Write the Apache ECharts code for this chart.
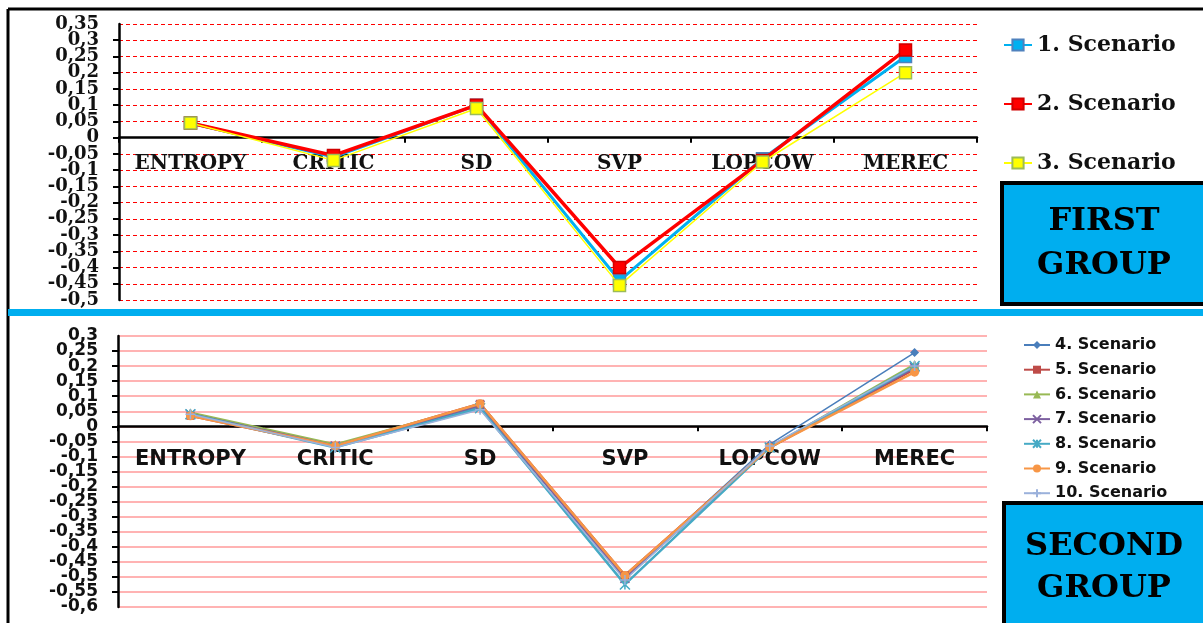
<!DOCTYPE html>
<html>
<head>
<meta charset="utf-8">
<script src="https://cdn.jsdelivr.net/npm/echarts@6/dist/echarts.min.js"></script>
<style>html,body{margin:0;padding:0;background:#fff;}#c{width:1203px;height:623px;}</style>
</head>
<body>
<div id="c"></div>
<script>
// ---- data ----
const categories = ['ENTROPY', 'CRITIC', 'SD', 'SVP', 'LOPCOW', 'MEREC'];

const firstNames = ['1. Scenario', '2. Scenario', '3. Scenario'];
const s1 = [0.045, -0.06, 0.10, -0.44, -0.065, 0.25];
const s2 = [0.045, -0.055, 0.10, -0.40, -0.07, 0.27];
const s3 = [0.045, -0.07, 0.09, -0.455, -0.075, 0.20];

const secondNames = ['4. Scenario', '5. Scenario', '6. Scenario', '7. Scenario', '8. Scenario', '9. Scenario', '10. Scenario'];
const s4 = [0.04, -0.065, 0.065, -0.50, -0.06, 0.245];
const s5 = [0.035, -0.065, 0.075, -0.495, -0.07, 0.19];
const s6 = [0.045, -0.06, 0.07, -0.50, -0.07, 0.205];
const s7 = [0.04, -0.065, 0.07, -0.505, -0.07, 0.195];
const s8 = [0.04, -0.07, 0.06, -0.525, -0.07, 0.20];
const s9 = [0.035, -0.065, 0.075, -0.495, -0.07, 0.18];
const s10 = [0.04, -0.07, 0.055, -0.51, -0.065, 0.20];

const topAxis = { min: -0.5, max: 0.35, interval: 0.05 };
const bottomAxis = { min: -0.6, max: 0.3, interval: 0.05 };
const groupLabels = ['FIRST\nGROUP', 'SECOND\nGROUP'];

// ---- chart ----
const fmt = v => String(Math.round(v * 100) / 100).replace('.', ',');
const SERIF = 'DejaVu Serif';
const SANS = 'DejaVu Sans';
const TXT = '#111';

const topGrid = { left: 119, top: 24, width: 858, height: 276 };
const botGrid = { left: 118, top: 336, width: 869, height: 271 };
// distance of the zero line above the grid bottom (axis moved onto zero)
const zeroOffset = (g, ax) => -g.height * (0 - ax.min) / (ax.max - ax.min);

const chart = echarts.init(document.getElementById('c'), null, { renderer: 'canvas' });

function topSeries(name, data, color, border, width, z) {
  return {
    name, type: 'line', data, xAxisIndex: 0, yAxisIndex: 0,
    symbol: 'rect', symbolSize: 12, z,
    lineStyle: { color, width },
    itemStyle: { color, borderColor: border, borderWidth: 1.5 },
    emphasis: { disabled: true }
  };
}
function botSeries(name, data, color, symbol, size, width, stroke, z) {
  return {
    name, type: 'line', data, xAxisIndex: 1, yAxisIndex: 1,
    symbol, symbolSize: size, z,
    lineStyle: { color, width },
    itemStyle: stroke ? { color: color, borderColor: color, borderWidth: 1.5 } : { color, borderColor: color, borderWidth: 0 },
    emphasis: { disabled: true }
  };
}
// main value axis: interior labels, line, ticks, grid lines
function mainY(gridIndex, ax, family, size, split) {
  return {
    type: 'value', gridIndex, position: 'left', min: ax.min, max: ax.max, interval: ax.interval,
    axisLine: { show: true, lineStyle: { color: '#000', width: 2.5 } },
    axisTick: { show: true, length: 6, lineStyle: { color: '#000', width: 2 } },
    axisLabel: { margin: 20, formatter: fmt, fontFamily: family, fontWeight: 'bold', fontSize: size, color: TXT,
      showMinLabel: false, showMaxLabel: false },
    splitLine: { show: true, lineStyle: split }
  };
}
// companion axis on the same side: only the end labels (min / max)
function endY(gridIndex, ax, family, size) {
  return {
    type: 'value', gridIndex, position: 'left', min: ax.min, max: ax.max, interval: ax.interval,
    axisLine: { show: false }, axisTick: { show: false }, splitLine: { show: false },
    axisLabel: { margin: 20, fontFamily: family, fontWeight: 'bold', fontSize: size, color: TXT,
      showMinLabel: true, showMaxLabel: true,
      formatter: v => (Math.abs(v - ax.min) < 1e-9 || Math.abs(v - ax.max) < 1e-9) ? fmt(v) : '' }
  };
}

const option = {
  animation: false,
  backgroundColor: '#fff',
  grid: [
    Object.assign({ containLabel: false }, topGrid),
    Object.assign({ containLabel: false }, botGrid)
  ],
  xAxis: [
    {
      type: 'category', gridIndex: 0, data: categories, boundaryGap: true, position: 'bottom',
      offset: zeroOffset(topGrid, topAxis),
      axisLine: { onZero: false, lineStyle: { color: '#000', width: 2.5 } },
      axisTick: { show: true, length: 5, lineStyle: { color: '#000', width: 2 } },
      axisLabel: { margin: 16, fontFamily: SERIF, fontWeight: 'bold', fontSize: 20, color: TXT, interval: 0 },
      splitLine: { show: false }
    },
    {
      type: 'category', gridIndex: 1, data: categories, boundaryGap: true, position: 'bottom',
      offset: zeroOffset(botGrid, bottomAxis),
      axisLine: { onZero: false, lineStyle: { color: '#000', width: 2.5 } },
      axisTick: { show: true, length: 5, lineStyle: { color: '#000', width: 2 } },
      axisLabel: { margin: 23, fontFamily: SANS, fontWeight: 'bold', fontSize: 21, color: TXT, interval: 0 },
      splitLine: { show: false }
    }
  ],
  yAxis: [
    mainY(0, topAxis, SERIF, 18, { color: '#ff0000', width: 1, type: [4, 3] }),
    mainY(1, bottomAxis, SANS, 17, { color: '#ff9a9a', width: 1.5 }),
    endY(0, topAxis, SERIF, 18),
    endY(1, bottomAxis, SANS, 17)
  ],
  legend: [
    {
      data: firstNames, orient: 'vertical', left: 998, top: 29,
      itemWidth: 28, itemHeight: 14, itemGap: 37,
      textStyle: { fontFamily: SERIF, fontWeight: 'bold', fontSize: 22, color: TXT, lineHeight: 22 },
      selectedMode: false
    },
    {
      data: secondNames, orient: 'vertical', left: 1018, top: 331,
      itemWidth: 26, itemHeight: 10, itemGap: 6.7,
      textStyle: { fontFamily: SANS, fontWeight: 'bold', fontSize: 16, color: TXT, lineHeight: 18 },
      selectedMode: false
    }
  ],
  series: [
    topSeries(firstNames[0], s1, '#00b0f0', '#4f81bd', 3, 3),
    topSeries(firstNames[1], s2, '#ff0000', '#d00000', 3.5, 4),
    topSeries(firstNames[2], s3, '#ffff00', '#9bbb59', 1.5, 5),
    botSeries(secondNames[0], s4, '#4a7ebb', 'diamond', 9, 1.5, false, 3),
    botSeries(secondNames[1], s5, '#be4b48', 'rect', 8, 2.5, false, 3),
    botSeries(secondNames[2], s6, '#98b954', 'triangle', 9, 2.5, false, 3),
    botSeries(secondNames[3], s7, '#7d60a0', 'path://M0,0L10,10M10,0L0,10M0,0Z', 9, 2.5, true, 3),
    botSeries(secondNames[4], s8, '#46aac5', 'path://M0,0L10,10M10,0L0,10M5,0L5,10M0,0Z', 10, 2.5, true, 3),
    botSeries(secondNames[5], s9, '#f79646', 'circle', 9, 2.5, false, 3),
    botSeries(secondNames[6], s10, '#9bb1db', 'path://M5,0L5,10M0,5L10,5M5,0Z', 10, 1.5, true, 3)
  ],
  graphic: [
    { type: 'line', shape: { x1: 8, y1: 9, x2: 1203, y2: 9 }, style: { stroke: '#000', lineWidth: 3 }, z: 10 },
    { type: 'line', shape: { x1: 8, y1: 9, x2: 8, y2: 623 }, style: { stroke: '#000', lineWidth: 3 }, z: 10 },
    { type: 'rect', shape: { x: 8, y: 309, width: 1195, height: 7 }, style: { fill: '#00aeef' }, z: 10 },
    { type: 'rect', shape: { x: 1002, y: 183, width: 220, height: 121 }, style: { fill: '#00aeef', stroke: '#000', lineWidth: 4 }, z: 10 },
    { type: 'text', x: 1104, y: 200, z: 11,
      style: { text: groupLabels[0], fill: '#000', font: 'bold 32px "DejaVu Serif"', align: 'center', verticalAlign: 'top', lineHeight: 44 } },
    { type: 'rect', shape: { x: 1004, y: 503, width: 220, height: 140 }, style: { fill: '#00aeef', stroke: '#000', lineWidth: 4 }, z: 10 },
    { type: 'text', x: 1104, y: 526, z: 11,
      style: { text: groupLabels[1], fill: '#000', font: 'bold 32px "DejaVu Serif"', align: 'center', verticalAlign: 'top', lineHeight: 42 } }
  ]
};
chart.setOption(option);
</script>
</body>
</html>
